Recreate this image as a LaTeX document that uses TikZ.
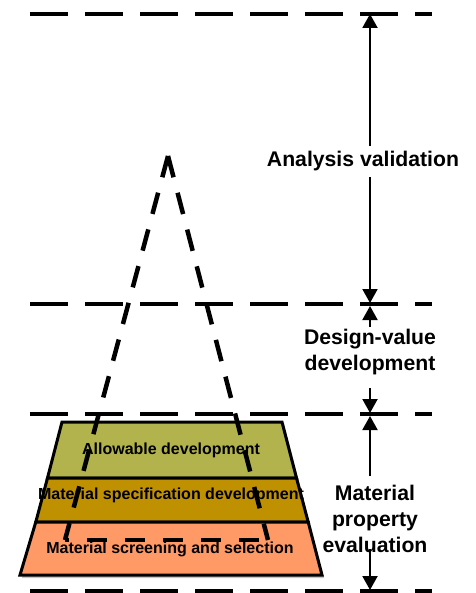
\documentclass[tikz,border=0pt]{standalone}
\usepackage{fontspec}
\setmainfont{Liberation Sans}
\usetikzlibrary{arrows.meta}
\definecolor{olivelayer}{RGB}{179,179,77}
\definecolor{goldlayer}{RGB}{191,144,0}
\definecolor{salmonlayer}{RGB}{255,153,102}
\tikzset{
  levelline/.style={line width=4pt, dash pattern=on 38pt off 17pt},
  triline/.style={line width=4.5pt, dash pattern=on 22pt off 16pt},
  layerbox/.style={draw=black, line width=3pt, line join=miter},
  layertext/.style={font=\fontsize{16}{18}\selectfont\bfseries, inner sep=0pt},
  sidetext/.style={font=\fontsize{21.2}{26}\selectfont\bfseries, align=center, inner sep=0pt},
  dimarrow/.style={line width=2pt, -{Triangle[width=15pt,length=14pt]}},
}
\begin{document}
\begin{tikzpicture}[x=1pt,y=-1pt]
\useasboundingbox (0,0) rectangle (475,593);
% level lines
\coordinate (l1a) at (30,14);  \coordinate (l1b) at (432,14);
\coordinate (l2a) at (30,304); \coordinate (l2b) at (432,304);
\coordinate (l3a) at (30,414); \coordinate (l3b) at (432,414);
\coordinate (l4a) at (30,591); \coordinate (l4b) at (432,591);
\draw[levelline] (l1a) -- (l1b);
\draw[levelline] (l2a) -- (l2b);
\draw[levelline] (l3a) -- (l3b);
\draw[levelline] (l4a) -- (l4b);
% shadow
\fill[gray!45] (64,424) -- (284,424) -- (324,578) -- (22,578) -- cycle;
% layers
\path[layerbox, fill=olivelayer] (62,422) -- (282,422) -- (296.5,478) -- (47.5,478) -- cycle;
\path[layerbox, fill=goldlayer] (47.5,478) -- (296.5,478) -- (308.2,522) -- (35.8,522) -- cycle;
\path[layerbox, fill=salmonlayer] (35.8,522) -- (308.2,522) -- (322,575) -- (20,575) -- cycle;
% dashed triangle
\coordinate (apex) at (168,156);
\coordinate (bl) at (65,540);
\coordinate (br) at (268,540);
\draw[triline] (apex) -- (bl);
\draw[triline] (apex) -- (br);
\draw[line width=4pt, dash pattern=on 20pt off 18pt, dash phase=-22pt] (bl) -- (br);
% layer texts
\node[layertext] (t1) at (171,450) {Allowable development};
\node[layertext] (t2) at (171,495) {Material specification development};
\node[layertext] (t3) at (170,549) {Material screening and selection};
% side texts
\node[sidetext] (av) at (363,161) {Analysis validation};
\node[sidetext] (dv) at (370,352) {Design-value\\development};
\node[sidetext] (mp) at (375,519) {Material\\property\\evaluation};
% arrows
\coordinate (a1s) at (370,146); \coordinate (a1e) at (370,14);
\coordinate (a2s) at (370,177); \coordinate (a2e) at (370,303);
\coordinate (a3s) at (370,327); \coordinate (a3e) at (370,306);
\coordinate (a4s) at (370,388); \coordinate (a4e) at (370,413);
\coordinate (a5s) at (370,476); \coordinate (a5e) at (370,416);
\coordinate (a6s) at (370,549); \coordinate (a6e) at (370,590);
\draw[dimarrow] (a1s) -- (a1e);
\draw[dimarrow] (a2s) -- (a2e);
\draw[dimarrow] (a3s) -- (a3e);
\draw[dimarrow] (a4s) -- (a4e);
\draw[dimarrow] (a5s) -- (a5e);
\draw[dimarrow] (a6s) -- (a6e);
\end{tikzpicture}
\end{document}
